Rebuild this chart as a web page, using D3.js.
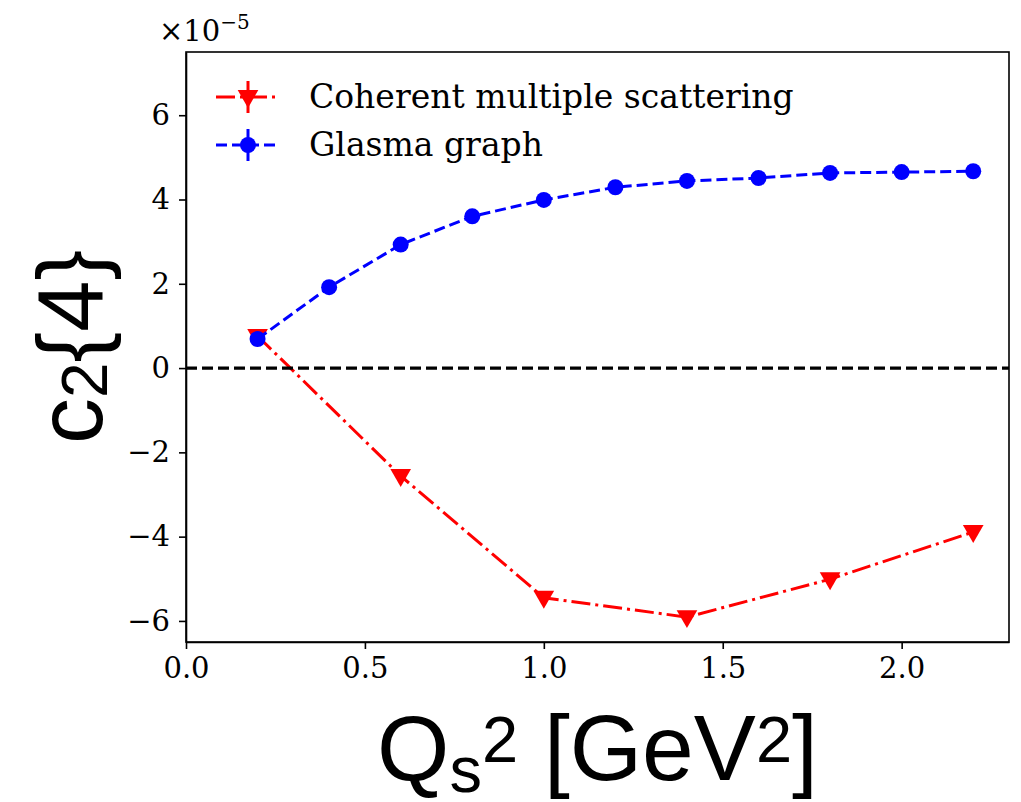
<!DOCTYPE html>
<html>
<head>
<meta charset="utf-8">
<script src="https://cdn.jsdelivr.net/npm/d3@7"></script>
<style>
  body { margin: 0; background: #fff; }
  .tick text { font-family: "DejaVu Serif", serif; font-size: 29px; fill: #000; }
  .axis path, .axis line { stroke: #000; stroke-width: 1.6px; }
</style>
</head>
<body>
<svg id="chart" width="1021" height="802"></svg>
<script>
// data (units of 1e-5)
var qs2Glasma = [0.2, 0.4, 0.6, 0.8, 1.0, 1.2, 1.4, 1.6, 1.8, 2.0, 2.2];
var c24Glasma = [0.69, 1.92, 2.93, 3.6, 3.99, 4.29, 4.44, 4.51, 4.63, 4.65, 4.67];
var qs2Coherent = [0.2, 0.6, 1.0, 1.4, 1.8, 2.2];
var c24Coherent = [0.76, -2.56, -5.45, -5.91, -5.01, -3.89];
var xTicks = [0.0, 0.5, 1.0, 1.5, 2.0];
var yTicks = [-6, -4, -2, 0, 2, 4, 6];
var seriesNames = ['Coherent multiple scattering', 'Glasma graph'];

var margin = {left: 186, top: 52, right: 12, bottom: 160},
    width = 1021 - margin.left - margin.right,
    height = 802 - margin.top - margin.bottom;

var svg = d3.select('#chart');
var g = svg.append('g').attr('transform', 'translate(' + margin.left + ',' + margin.top + ')');

var x = d3.scaleLinear().domain([0, 2.3]).range([0, width]);
var y = d3.scaleLinear().domain([-6.5, 7.5]).range([height, 0]);

var red = '#ff0000', blue = '#0000ff';
var dashDot = '19,5,3,5', dashed = '11,5';

var line = d3.line()
  .x(function(d) { return x(d[0]); })
  .y(function(d) { return y(d[1]); });

var coherent = d3.zip(qs2Coherent, c24Coherent);
var glasma = d3.zip(qs2Glasma, c24Glasma);

var tri = d3.symbol().type(d3.symbolTriangle).size(185);

// coherent scattering: dash-dot, triangles down
g.append('path')
  .attr('d', line(coherent))
  .attr('fill', 'none')
  .attr('stroke', red)
  .attr('stroke-width', 3)
  .attr('stroke-dasharray', dashDot);

g.selectAll('path.tri')
  .data(coherent)
  .enter()
  .append('path')
  .attr('class', 'tri')
  .attr('d', tri)
  .attr('fill', red)
  .attr('transform', function(d) { return 'translate(' + x(d[0]) + ',' + (y(d[1]) - 1) + ') rotate(180)'; });

// glasma graph: dashed, circles
g.append('path')
  .attr('d', line(glasma))
  .attr('fill', 'none')
  .attr('stroke', blue)
  .attr('stroke-width', 3)
  .attr('stroke-dasharray', dashed);

g.selectAll('circle.dot')
  .data(glasma)
  .enter()
  .append('circle')
  .attr('class', 'dot')
  .attr('cx', function(d) { return x(d[0]); })
  .attr('cy', function(d) { return y(d[1]); })
  .attr('r', 8)
  .attr('fill', blue);

// zero line
g.append('line')
  .attr('x1', 0).attr('x2', width)
  .attr('y1', y(0)).attr('y2', y(0))
  .attr('stroke', '#000')
  .attr('stroke-width', 3.3)
  .attr('stroke-dasharray', '11,5');

// axes + frame
g.append('g')
  .attr('class', 'axis')
  .attr('transform', 'translate(0,' + height + ')')
  .call(d3.axisBottom(x).tickValues(xTicks).tickFormat(d3.format('.1f')).tickSize(7).tickPadding(8).tickSizeOuter(0));

g.append('g')
  .attr('class', 'axis')
  .call(d3.axisLeft(y).tickValues(yTicks).tickFormat(d3.format('d')).tickSize(7).tickPadding(9).tickSizeOuter(0));

g.append('rect')
  .attr('width', width)
  .attr('height', height)
  .attr('fill', 'none')
  .attr('stroke', '#000')
  .attr('stroke-width', 1.6);

// offset text
var off = svg.append('text')
  .attr('x', 159)
  .attr('y', 41)
  .attr('font-family', 'DejaVu Serif, serif')
  .attr('font-size', 29);
off.append('tspan').text('\u00d710');
off.append('tspan').attr('font-size', 20).attr('dy', -12).text('\u22125');

// legend
var legend = g.append('g').attr('transform', 'translate(30,45)');
var entries = legend.selectAll('g.entry')
  .data(seriesNames)
  .enter()
  .append('g')
  .attr('class', 'entry')
  .attr('transform', function(d, i) { return 'translate(0,' + (i * 48) + ')'; });

entries.append('line')
  .attr('x1', 0).attr('x2', 64)
  .attr('stroke', function(d, i) { return i === 0 ? red : blue; })
  .attr('stroke-width', 3)
  .attr('stroke-dasharray', function(d, i) { return i === 0 ? dashDot : dashed; });

entries.append('line')
  .attr('x1', 32).attr('x2', 32)
  .attr('y1', -16).attr('y2', 16)
  .attr('stroke', function(d, i) { return i === 0 ? red : blue; })
  .attr('stroke-width', 3);

entries.append('path')
  .attr('d', function(d, i) { return i === 0 ? tri() : d3.symbol().type(d3.symbolCircle).size(200)(); })
  .attr('transform', function(d, i) { return 'translate(32,' + (i === 0 ? -1 : 0) + ')' + (i === 0 ? ' rotate(180)' : ''); })
  .attr('fill', function(d, i) { return i === 0 ? red : blue; });

entries.append('text')
  .attr('x', 93)
  .attr('y', 11)
  .attr('font-family', 'DejaVu Serif, serif')
  .attr('font-size', 33)
  .text(function(d) { return d; });

// axis titles
var xl = svg.append('text')
  .attr('x', margin.left + width / 2)
  .attr('y', 780)
  .attr('text-anchor', 'middle')
  .attr('font-family', 'Liberation Sans, Arial, sans-serif')
  .attr('font-size', 93);
xl.append('tspan').text('Q');
xl.append('tspan').attr('font-size', 65).attr('dy', 12).text('s');
xl.append('tspan').attr('font-size', 65).attr('dy', -30).text('2');
xl.append('tspan').attr('dy', 18).text(' [GeV');
xl.append('tspan').attr('font-size', 65).attr('dy', -18).text('2');
xl.append('tspan').attr('dy', 18).text(']');

var yl = svg.append('text')
  .attr('transform', 'translate(102,' + (margin.top + height / 2) + ') rotate(-90)')
  .attr('text-anchor', 'middle')
  .attr('font-family', 'Liberation Sans, Arial, sans-serif')
  .attr('font-size', 92);
yl.append('tspan').text('c');
yl.append('tspan').attr('font-size', 64).attr('dy', 5).text('2');
yl.append('tspan').attr('dy', -5).text('{4}');
</script>
</body>
</html>
